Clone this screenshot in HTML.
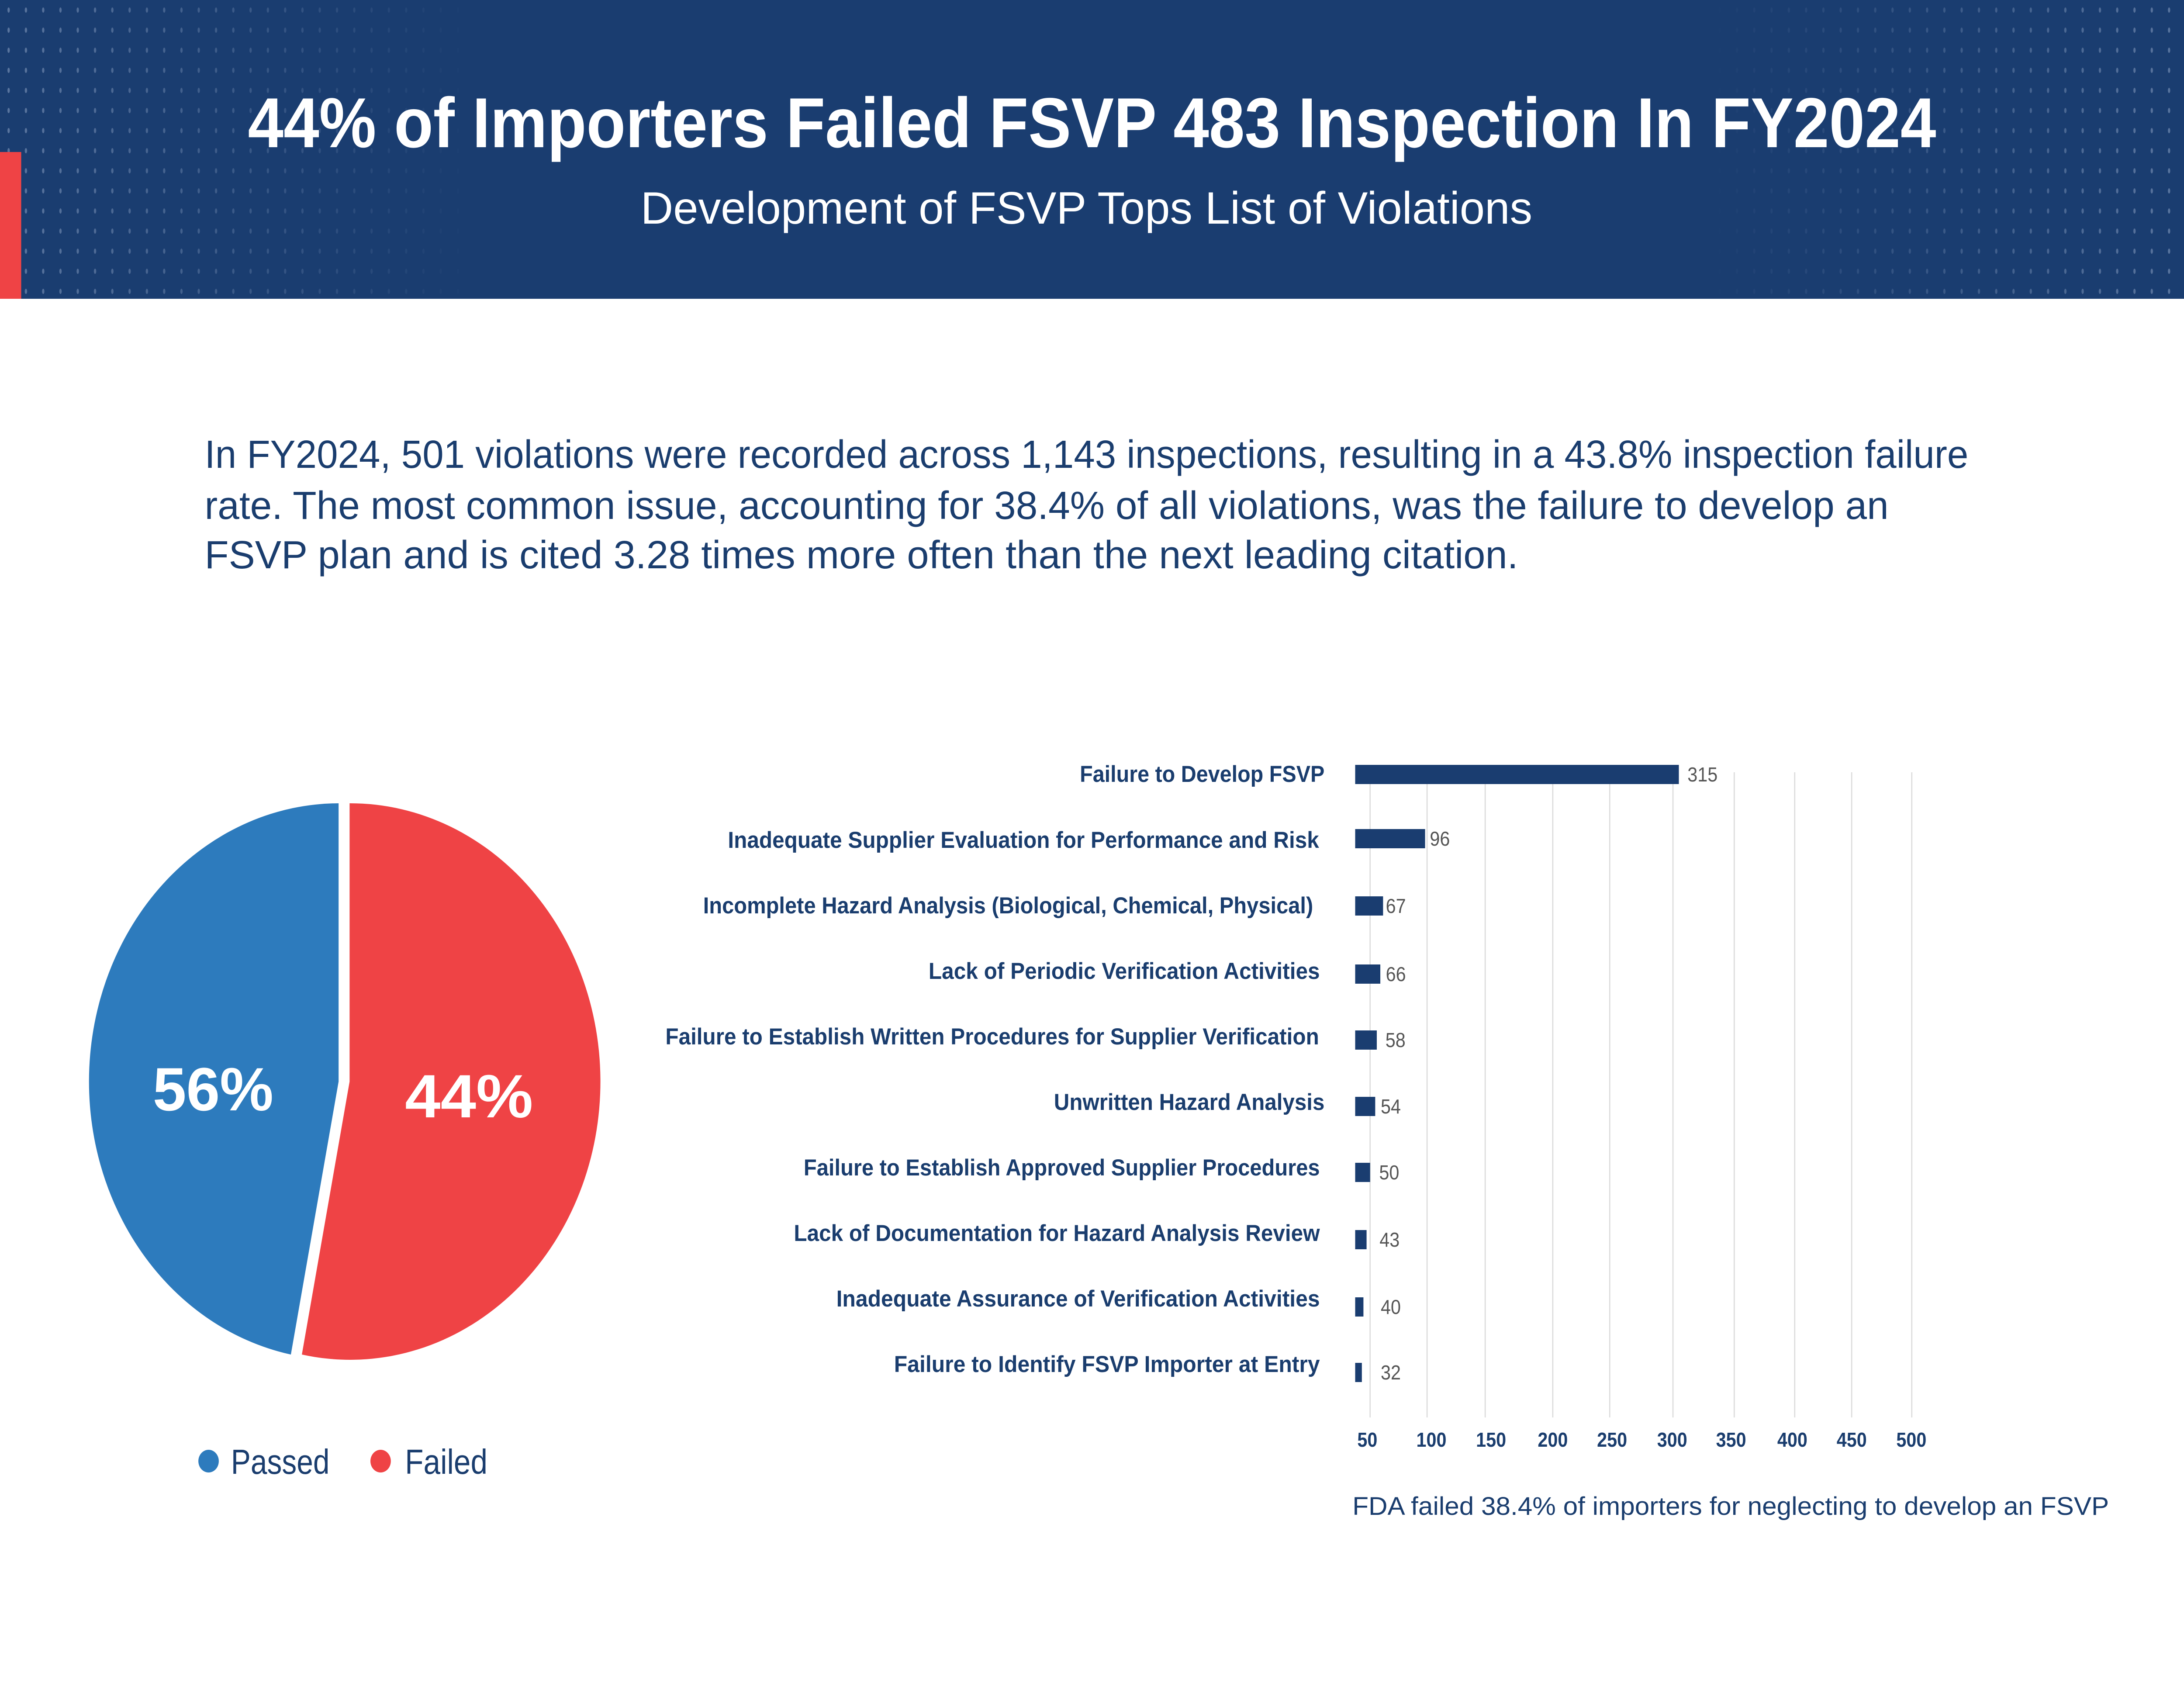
<!DOCTYPE html>
<html><head><meta charset="utf-8"><style>
html,body{margin:0;padding:0;background:#fff;width:100%;height:100%;overflow:hidden;}
svg{display:block;position:fixed;left:0;top:0;width:100vw;height:100vh;}
text{font-family:"Liberation Sans",sans-serif;}
</style></head><body>
<svg viewBox="0 0 5560 3885" preserveAspectRatio="none" xmlns="http://www.w3.org/2000/svg">
<defs>
<pattern id="dots" x="0" y="0" width="44" height="46" patternUnits="userSpaceOnUse">
<ellipse cx="22" cy="23" rx="3" ry="6" fill="#8fa3c4"/>
</pattern>
<linearGradient id="fadeL" x1="0" y1="0" x2="1" y2="0"><stop offset="0" stop-color="#fff" stop-opacity="0.8"/><stop offset="1" stop-color="#fff" stop-opacity="0"/></linearGradient>
<linearGradient id="fadeR" x1="0" y1="0" x2="1" y2="0"><stop offset="0" stop-color="#fff" stop-opacity="0"/><stop offset="1" stop-color="#fff" stop-opacity="0.8"/></linearGradient>
<mask id="mL"><rect x="0" y="0" width="1220" height="684" fill="url(#fadeL)"/></mask>
<mask id="mR"><rect x="4340" y="0" width="1220" height="684" fill="url(#fadeR)"/></mask>
</defs>
<rect x="0" y="0" width="5560" height="3885" fill="#fff"/>
<rect x="0" y="0" width="5560" height="684" fill="#1a3d70"/>
<rect x="0" y="0" width="1220" height="684" fill="url(#dots)" mask="url(#mL)" opacity="0.7"/>
<rect x="4340" y="0" width="1220" height="684" fill="url(#dots)" mask="url(#mR)" opacity="0.7"/>
<rect x="0" y="348" width="54" height="336" fill="#ef4345"/>
<text x="631" y="337" font-size="162" font-weight="bold" fill="#fff" textLength="4298" lengthAdjust="spacingAndGlyphs">44% of Importers Failed FSVP 483 Inspection In FY2024</text>
<text x="1631" y="512" font-size="104" fill="#fff" textLength="2270" lengthAdjust="spacingAndGlyphs">Development of FSVP Tops List of Violations</text>

<g fill="#1a3d6e" font-size="90">
<text x="521" y="1071" textLength="4490" lengthAdjust="spacingAndGlyphs">In FY2024, 501 violations were recorded across 1,143 inspections, resulting in a 43.8% inspection failure</text>
<text x="521" y="1188" textLength="4287" lengthAdjust="spacingAndGlyphs">rate. The most common issue, accounting for 38.4% of all violations, was the failure to develop an</text>
<text x="521" y="1301" textLength="3344" lengthAdjust="spacingAndGlyphs">FSVP plan and is cited 3.28 times more often than the next leading citation.</text>
</g>

<path d="M890,2476 L890,1839 A637,637 0 1 1 768.5,3101 Z" fill="#ef4345"/>
<path d="M862,2476 L740.5,3101 A637,637 0 0 1 862,1839 Z" fill="#2d7bbd"/>
<text x="389" y="2542" font-size="140" font-weight="bold" fill="#fff" textLength="307" lengthAdjust="spacingAndGlyphs">56%</text>
<text x="1031" y="2558" font-size="140" font-weight="bold" fill="#fff" textLength="326" lengthAdjust="spacingAndGlyphs">44%</text>
<circle cx="531" cy="3345" r="26" fill="#2d7bbd"/>
<text x="588" y="3374" font-size="80" fill="#1a3d6e" textLength="251" lengthAdjust="spacingAndGlyphs">Passed</text>
<circle cx="969" cy="3345" r="26" fill="#ef4345"/>
<text x="1031" y="3374" font-size="80" fill="#1a3d6e" textLength="210" lengthAdjust="spacingAndGlyphs">Failed</text>

<g stroke="#dcdcdc" stroke-width="3">
<line x1="3488" y1="1768" x2="3488" y2="3245"/>
<line x1="3633" y1="1768" x2="3633" y2="3245"/>
<line x1="3781" y1="1768" x2="3781" y2="3245"/>
<line x1="3953" y1="1768" x2="3953" y2="3245"/>
<line x1="4098" y1="1768" x2="4098" y2="3245"/>
<line x1="4259" y1="1768" x2="4259" y2="3245"/>
<line x1="4415" y1="1768" x2="4415" y2="3245"/>
<line x1="4569" y1="1768" x2="4569" y2="3245"/>
<line x1="4714" y1="1768" x2="4714" y2="3245"/>
<line x1="4867" y1="1768" x2="4867" y2="3245"/>
</g>

<g fill="#1a3d70">
<rect x="3450" y="1751" width="824" height="44"/>
<rect x="3450" y="1898" width="178" height="44"/>
<rect x="3450" y="2052" width="71" height="44"/>
<rect x="3450" y="2208" width="64" height="44"/>
<rect x="3450" y="2359" width="55" height="44"/>
<rect x="3450" y="2511" width="51" height="44"/>
<rect x="3450" y="2662" width="38" height="44"/>
<rect x="3450" y="2816" width="29" height="44"/>
<rect x="3450" y="2970" width="21" height="44"/>
<rect x="3450" y="3120" width="17" height="44"/>
</g>
<g fill="#555" font-size="46">
<text x="4296" y="1789">315</text>
<text x="3640" y="1936">96</text>
<text x="3528" y="2090">67</text>
<text x="3528" y="2246">66</text>
<text x="3527" y="2397">58</text>
<text x="3515" y="2549">54</text>
<text x="3511" y="2700">50</text>
<text x="3512" y="2854">43</text>
<text x="3515" y="3008">40</text>
<text x="3515" y="3158">32</text>
</g>

<g fill="#1a3d6e" font-size="53" font-weight="bold">
<text x="2749" y="1790" textLength="623" lengthAdjust="spacingAndGlyphs">Failure to Develop FSVP</text>
<text x="1853" y="1941" textLength="1505" lengthAdjust="spacingAndGlyphs">Inadequate Supplier Evaluation for Performance and Risk</text>
<text x="1790" y="2091" textLength="1553" lengthAdjust="spacingAndGlyphs">Incomplete Hazard Analysis (Biological, Chemical, Physical)</text>
<text x="2364" y="2241" textLength="996" lengthAdjust="spacingAndGlyphs">Lack of Periodic Verification Activities</text>
<text x="1694" y="2391" textLength="1664" lengthAdjust="spacingAndGlyphs">Failure to Establish Written Procedures for Supplier Verification</text>
<text x="2683" y="2541" textLength="689" lengthAdjust="spacingAndGlyphs">Unwritten Hazard Analysis</text>
<text x="2046" y="2691" textLength="1314" lengthAdjust="spacingAndGlyphs">Failure to Establish Approved Supplier Procedures</text>
<text x="2021" y="2841" textLength="1339" lengthAdjust="spacingAndGlyphs">Lack of Documentation for Hazard Analysis Review</text>
<text x="2129" y="2991" textLength="1231" lengthAdjust="spacingAndGlyphs">Inadequate Assurance of Verification Activities</text>
<text x="2276" y="3141" textLength="1084" lengthAdjust="spacingAndGlyphs">Failure to Identify FSVP Importer at Entry</text>
</g>

<g fill="#1a3d6e" font-size="46" font-weight="bold" text-anchor="middle">
<text x="3481" y="3312">50</text>
<text x="3644" y="3312">100</text>
<text x="3796" y="3312">150</text>
<text x="3953" y="3312">200</text>
<text x="4104" y="3312">250</text>
<text x="4257" y="3312">300</text>
<text x="4407" y="3312">350</text>
<text x="4563" y="3312">400</text>
<text x="4714" y="3312">450</text>
<text x="4866" y="3312">500</text>
</g>

<text x="3443" y="3468" font-size="58" fill="#1a3d6e" textLength="1926" lengthAdjust="spacingAndGlyphs">FDA failed 38.4% of importers for neglecting to develop an FSVP</text>
</svg>
</body></html>
